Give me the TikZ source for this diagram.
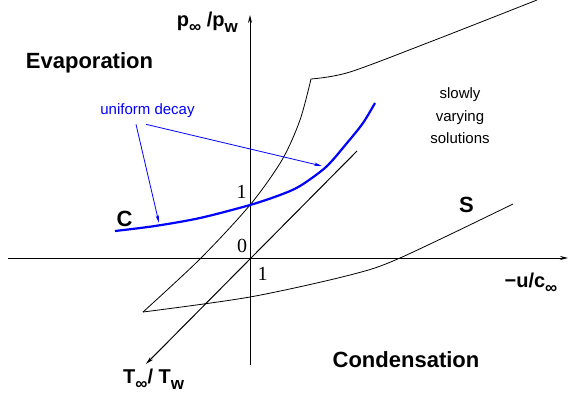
\documentclass[tikz,border=0pt]{standalone}
\usepackage{fontspec}
\setmainfont{Liberation Sans}
\newfontfamily\serifnum{Liberation Serif}
\usetikzlibrary{arrows.meta,positioning,calc}

\newcommand{\lowsub}[1]{\raisebox{-0.3em}{\fontsize{17}{17}\selectfont #1}}

\begin{document}
\begin{tikzpicture}[
  x=1pt,y=-1pt,
  every node/.style={inner sep=0pt,align=center},
  axis/.style={line width=1pt,-{Stealth[length=8pt,width=4pt]}},
  branch/.style={line width=0.8pt},
  decaycurve/.style={blue,line width=2.2pt},
  pointer/.style={blue,line width=0.8pt,-{Stealth[length=8pt,width=3.5pt]}},
  region/.style={font=\fontsize{22}{22}\selectfont\bfseries},
  axlbl/.style={font=\fontsize{20}{20}\selectfont\bfseries},
  tag/.style={font=\fontsize{15}{22.5}\selectfont},
  num/.style={font=\fontsize{20}{20}\selectfont\serifnum}
]
\useasboundingbox (0,0) rectangle (573,393);
% axes
\coordinate (O) at (250,258);
\coordinate (ptop) at (250,15);
\coordinate (pbot) at (250,365);
\coordinate (uleft) at (8,258);
\coordinate (uright) at (568,258);
\coordinate (Ttop) at (357,151);
\coordinate (Tend) at (146,364);
\draw[axis] (pbot) -- (ptop);
\draw[axis] (uleft) -- (uright);
\draw[axis] (Ttop) -- (Tend);

% solution branches
\coordinate (apex) at (143,312);
\coordinate (kink) at (311,79);
\draw[branch] plot[smooth] coordinates {(apex) (200,259) (250,205) (282,160) (300,120) (kink)};
\draw[branch] plot[smooth] coordinates {(kink) (350,72) (435,40) (537,0)};
\draw[branch] plot[smooth] coordinates {(apex) (250,297) (350,275) (400,258) (513,204)};

% uniform decay curve
\draw[decaycurve] plot[smooth] coordinates {(115,231) (155,226) (200,218) (250,205) (280,195) (300,186) (326,167) (347,143) (363,123) (375,103)};

% labels
\node[region,anchor=base] (evap) at (89.5,69) {Evaporation};
\node[region,anchor=base] (cond) at (406,367) {Condensation};
\node[region,anchor=base] (Clbl) at (124.5,226) {C};
\node[region,anchor=base] (Slbl) at (466.5,212) {S};
\node[tag,anchor=base,blue] (decay) at (147.5,115) {uniform decay};
\node[tag] (slow) at (460,116) {slowly\\varying\\solutions};
\node[num,anchor=base] (one) at (241.5,198) {1};
\node[num,anchor=base] (zero) at (242,252) {0};
\node[num,anchor=base] (oneu) at (262.5,280) {1};
\node[axlbl,anchor=base east] (plbl) at (238,27) {p\lowsub{∞} /p\lowsub{w}};
\node[axlbl,anchor=base] (ulbl) at (531,287) {−u/c\lowsub{∞}};
\node[axlbl,anchor=base west] (Tlbl) at (123,383) {T\lowsub{∞}/ T\lowsub{w}};

% pointers
\coordinate (hitC) at (159,223);
\coordinate (hitS) at (322,166);
\draw[pointer] ($(decay.south)+(-11.5,6)$) -- (hitC);
\draw[pointer] ($(decay.south)+(-1.5,6)$) -- (hitS);
\end{tikzpicture}
\end{document}
